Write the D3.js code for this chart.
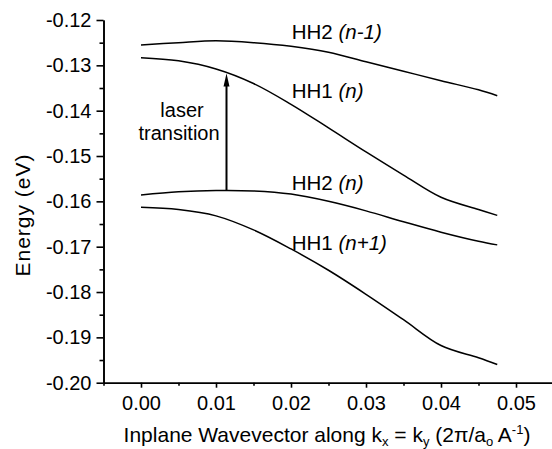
<!DOCTYPE html>
<html>
<head>
<meta charset="utf-8">
<script src="https://cdn.jsdelivr.net/npm/d3@7"></script>
<style>
body { margin: 0; background: #fff; }
svg { font-family: "Liberation Sans", Arial, sans-serif; }
.axis path, .axis line { stroke: #000; stroke-width: 1.6; }
.axis text { font-size: 20px; fill: #000; }
</style>
</head>
<body>
<div id="chart"></div>
<script>
const width = 552
const height = 449

// data
const kx = [0, 0.005, 0.01, 0.015, 0.02, 0.025, 0.03, 0.035, 0.04, 0.045, 0.0475]
const hh2nm1 = [-0.1255, -0.1250, -0.1246, -0.1250, -0.1258, -0.1271, -0.1292, -0.1313, -0.1334, -0.1354, -0.1367]
const hh1n = [-0.1283, -0.1290, -0.1308, -0.1340, -0.1386, -0.1438, -0.1491, -0.1542, -0.1591, -0.1618, -0.1631]
const hh2n = [-0.1586, -0.1579, -0.1576, -0.1577, -0.1584, -0.1600, -0.1621, -0.1645, -0.1668, -0.1688, -0.1696]
const hh1np1 = [-0.1613, -0.1618, -0.1632, -0.1663, -0.1705, -0.1752, -0.1805, -0.1861, -0.1918, -0.1945, -0.1960]

const xTicks = [0, 0.01, 0.02, 0.03, 0.04, 0.05]
const xTickLabels = ["0.00", "0.01", "0.02", "0.03", "0.04", "0.05"]
const yTicks = [-0.12, -0.13, -0.14, -0.15, -0.16, -0.17, -0.18, -0.19, -0.20]
const yTickLabels = ["-0.12", "-0.13", "-0.14", "-0.15", "-0.16", "-0.17", "-0.18", "-0.19", "-0.20"]
const xMinor = [-0.005, 0.005, 0.015, 0.025, 0.035, 0.045]
const yMinor = [-0.125, -0.135, -0.145, -0.155, -0.165, -0.175, -0.185, -0.195]

// arrow: laser transition
const arrowK = 0.0114
const arrowFrom = -0.1576
const arrowTo = -0.1318

const series = [
    {name: "HH2", idx: "n-1", values: hh2nm1, lx: 0.0201, ly: -0.1243},
    {name: "HH1", idx: "n", values: hh1n, lx: 0.0201, ly: -0.1373},
    {name: "HH2", idx: "n", values: hh2n, lx: 0.0201, ly: -0.1575},
    {name: "HH1", idx: "n+1", values: hh1np1, lx: 0.0201, ly: -0.1707}
]

const svg = d3.select("#chart").append("svg").attr("width", width).attr("height", height)

const x = d3.scaleLinear().domain([-0.005, 0.055]).range([103.5, 553.5])
const y = d3.scaleLinear().domain([-0.20, -0.12]).range([382.7, 20])

// ejes
const xAxis = d3.axisBottom(x).tickValues(xTicks).tickSize(5).tickPadding(8)
    .tickFormat((d, i) => xTickLabels[i])
const yAxis = d3.axisLeft(y).tickValues(yTicks).tickSize(7).tickPadding(5)
    .tickFormat((d, i) => yTickLabels[i])

svg.append("g").attr("class", "axis")
    .attr("transform", `translate(0,${y(-0.20)})`)
    .call(d3.axisBottom(x).tickValues(xMinor).tickSize(3).tickSizeOuter(0).tickFormat(""))
svg.append("g").attr("class", "axis")
    .attr("transform", `translate(${x(-0.005)},0)`)
    .call(d3.axisLeft(y).tickValues(yMinor).tickSize(4).tickSizeOuter(0).tickFormat(""))

svg.append("g").attr("class", "axis")
    .attr("transform", `translate(0,${y(-0.20)})`)
    .call(xAxis.tickSizeOuter(0))
svg.append("g").attr("class", "axis")
    .attr("transform", `translate(${x(-0.005)},0)`)
    .call(yAxis.tickSizeOuter(0))

// curves
const line = d3.line().x(d => x(d[0])).y(d => y(d[1])).curve(d3.curveCatmullRom.alpha(0.5))

svg.append("g").selectAll("path").data(series)
    .enter()
    .append("path")
        .attr("d", d => line(kx.map((k, i) => [k, d.values[i]])))
        .attr("fill", "none")
        .attr("stroke", "#000")
        .attr("stroke-width", 1.5)

const labels = svg.append("g").selectAll("text").data(series)
    .enter()
    .append("text")
        .attr("x", d => x(d.lx))
        .attr("y", d => y(d.ly))
        .attr("font-size", 20.5)
labels.append("tspan").text(d => d.name + " ")
labels.append("tspan").attr("font-style", "italic").text(d => "(" + d.idx + ")")

// arrow
const ax = x(arrowK), tipY = y(arrowTo)
svg.append("line")
    .attr("x1", ax).attr("x2", ax)
    .attr("y1", y(arrowFrom)).attr("y2", tipY + 10)
    .attr("stroke", "#000").attr("stroke-width", 2)
svg.append("path")
    .attr("d", `M${ax},${tipY} L${ax - 3},${tipY + 13} L${ax + 3},${tipY + 13} Z`)
    .attr("fill", "#000")

svg.append("text").attr("x", 182).attr("y", 117).attr("text-anchor", "middle")
    .attr("font-size", 20).text("laser")
svg.append("text").attr("x", 179).attr("y", 140).attr("text-anchor", "middle")
    .attr("font-size", 20).text("transition")

// axis titles
svg.append("text")
    .attr("transform", "translate(30,215) rotate(-90)")
    .attr("text-anchor", "middle").attr("font-size", 21)
    .attr("letter-spacing", 1)
    .text("Energy (eV)")

const xt = svg.append("text").attr("x", 327).attr("y", 442)
    .attr("text-anchor", "middle").attr("font-size", 21)
xt.append("tspan").text("Inplane Wavevector along k")
xt.append("tspan").attr("font-size", 13).attr("dy", 4).text("x")
xt.append("tspan").attr("dy", -4).text(" = k")
xt.append("tspan").attr("font-size", 13).attr("dy", 4).text("y")
xt.append("tspan").attr("dy", -4).text(" (2\u03c0/a")
xt.append("tspan").attr("font-size", 13).attr("dy", 4).text("o")
xt.append("tspan").attr("dy", -4).text("  A")
xt.append("tspan").attr("font-size", 13).attr("dy", -8).text("-1")
xt.append("tspan").attr("dy", 8).text(")")
</script>
</body>
</html>
